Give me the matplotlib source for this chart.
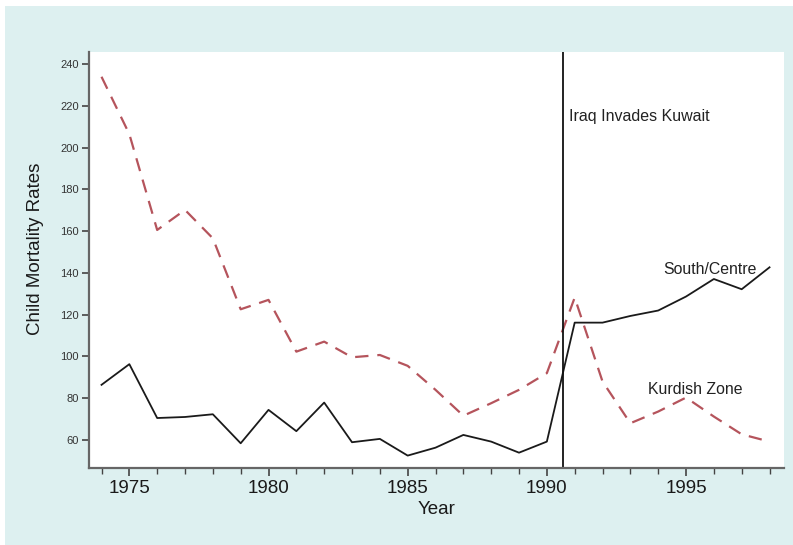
import matplotlib
matplotlib.use("Agg")
import matplotlib.pyplot as plt
from matplotlib.patches import Rectangle
from matplotlib.ticker import MultipleLocator

plt.rcParams['font.family'] = ['Liberation Sans', 'DejaVu Sans']

years = list(range(1974, 1999))
south_centre = [86.4, 96.3, 70.5, 71.0, 72.3, 58.4, 74.4, 64.2, 77.9, 58.9, 60.5,
                52.5, 56.3, 62.4, 59.2, 53.9, 59.2, 116.2, 116.2, 119.4, 122.0,
                128.7, 137.1, 132.2, 142.7]
kurdish_zone = [234.0, 206.5, 160.6, 170.2, 156.6, 122.6, 127.1, 102.3, 107.1, 99.6,
                100.7, 95.5, 84.0, 71.6, 77.6, 84.0, 92.0, 128.2, 88.0, 68.0, 73.6,
                80.3, 71.2, 62.7, 59.2]
invasion_year = 1990.58
y_ticks = [60, 80, 100, 120, 140, 160, 180, 200, 220, 240]
x_ticks = [1975, 1980, 1985, 1990, 1995]

W, H = 793, 545
fig = plt.figure(figsize=(W / 100, H / 100), dpi=100)
fig.patch.set_facecolor('white')
bg = Rectangle((5 / W, 0), 1 - 5 / W, 1 - 6 / H, transform=fig.transFigure,
               facecolor='#ddf0f0', edgecolor='none', zorder=-10)
fig.add_artist(bg)

left, right = 88.7 / W, 784 / W
bottom, top = 1 - 467.7 / H, 1 - 51.7 / H
ax = fig.add_axes([left, bottom, right - left, top - bottom])
ax.set_zorder(5)
ax.set_facecolor('white')

ax.plot(years, kurdish_zone, color='#b5545c', lw=1.6, dashes=(6, 4))
ax.plot(years, south_centre, color='#1a1a1a', lw=1.3)
ax.axvline(invasion_year, color='#111111', lw=1.3)

ax.set_xlim(1973.54, 1998.52)
ax.set_ylim(46.7, 246)

for s in ['top', 'right']:
    ax.spines[s].set_visible(False)
for s in ['left', 'bottom']:
    ax.spines[s].set_color('#666666')
    ax.spines[s].set_linewidth(1.6)

ax.set_yticks(y_ticks)
ax.set_xticks(x_ticks)
ax.xaxis.set_minor_locator(MultipleLocator(1))
ax.tick_params(axis='y', labelsize=8, length=5, width=1.2, color='#444444', labelcolor='#333333', pad=2)
ax.tick_params(axis='x', which='major', labelsize=13.5, length=6, width=1.2, color='#444444', labelcolor='#1a1a1a', pad=3)
ax.tick_params(axis='x', which='minor', length=4, width=1.0, color='#444444')

ax.set_xlabel('Year', fontsize=13.5, color='#1a1a1a', labelpad=3)
fig.text(36 / W, 1 - 249 / H, 'Child Mortality Rates', rotation=90, fontsize=13.5,
         color='#1a1a1a', ha='center', va='center', zorder=6)

ax.text(1990.80, 214.9, 'Iraq Invades Kuwait', fontsize=11.5, color='#222222', ha='left', va='center')
ax.text(1997.52, 141.5, 'South/Centre', fontsize=11.4, color='#222222', ha='right', va='center')
ax.text(1993.65, 84.0, 'Kurdish Zone', fontsize=11.4, color='#222222', ha='left', va='center')

fig.savefig('out.png', dpi=100, facecolor=fig.get_facecolor())
